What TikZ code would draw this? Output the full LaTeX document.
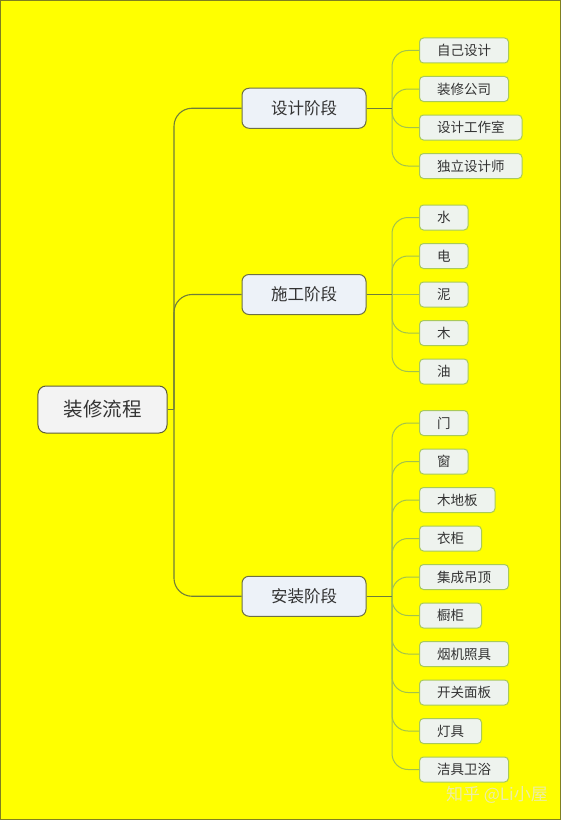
\documentclass[tikz,border=0pt]{standalone}
\usepackage{fontspec}
\setmainfont{Noto Sans CJK SC}
\definecolor{bgyellow}{HTML}{FFFF00}
\definecolor{frame}{HTML}{808020}
\definecolor{rootfill}{HTML}{F3F3F3}
\definecolor{rootdraw}{HTML}{5E5E3A}
\definecolor{midfill}{HTML}{EDF2F8}
\definecolor{middraw}{HTML}{6E7045}
\definecolor{leaffill}{HTML}{EEF3EE}
\definecolor{leafdraw}{HTML}{A9C95A}
\definecolor{txt}{HTML}{333333}
\definecolor{trunkline}{HTML}{6F7D3A}
\definecolor{leafline}{HTML}{A2C24C}
\definecolor{wm}{HTML}{EDEDA6}
\begin{document}
\begin{tikzpicture}[x=1bp,y=-1bp,
  rootbox/.style={draw=rootdraw,fill=rootfill,line width=1bp,rounded corners=8bp,
    minimum width=129bp,minimum height=47bp,inner sep=0pt,text=txt,
    font=\fontsize{19.5bp}{22bp}\selectfont},
  midbox/.style={draw=middraw,fill=midfill,line width=1bp,rounded corners=7bp,
    minimum width=124bp,minimum height=40bp,inner sep=0pt,text=txt,
    font=\fontsize{16.5bp}{19bp}\selectfont},
  leafbox/.style={draw=leafdraw,fill=leaffill,line width=1bp,rounded corners=4bp,
    minimum height=25bp,inner xsep=17.5bp,inner ysep=0pt,anchor=west,text=txt,
    font=\fontsize{13.5bp}{16bp}\selectfont},
  rootlink/.style={draw=trunkline,line width=1.1bp,rounded corners=18bp},
  midlink/.style={draw=trunkline,line width=1bp},
  leaflink/.style={draw=leafline,line width=1bp,rounded corners=16bp}
]
\fill[bgyellow] (0,0) rectangle (561,820);
\draw[frame,line width=1.2bp] (0.6,0.6) rectangle (560.4,819.4);
\useasboundingbox (0,0) rectangle (561,820);

% root and mid nodes
\node[rootbox] (r) at (102.5,409.5) {装修流程};
\node[midbox] (m1) at (304,108.25) {设计阶段};
\node[midbox] (m2) at (304,294.5) {施工阶段};
\node[midbox] (m3) at (304,596.25) {安装阶段};

% leaves
\node[leafbox] (a1) at (419,50.5) {自己设计};
\node[leafbox] (a2) at (419,89) {装修公司};
\node[leafbox] (a3) at (419,127.5) {设计工作室};
\node[leafbox] (a4) at (419,166) {独立设计师};

\node[leafbox] (b1) at (419,217.5) {水};
\node[leafbox] (b2) at (419,256) {电};
\node[leafbox] (b3) at (419,294.5) {泥};
\node[leafbox] (b4) at (419,333) {木};
\node[leafbox] (b5) at (419,371.5) {油};

\node[leafbox] (c1) at (419,423) {门};
\node[leafbox] (c2) at (419,461.5) {窗};
\node[leafbox] (c3) at (419,500) {木地板};
\node[leafbox] (c4) at (419,538.5) {衣柜};
\node[leafbox] (c5) at (419,577) {集成吊顶};
\node[leafbox] (c6) at (419,615.5) {橱柜};
\node[leafbox] (c7) at (419,654) {烟机照具};
\node[leafbox] (c8) at (419,692.5) {开关面板};
\node[leafbox] (c9) at (419,731) {灯具};
\node[leafbox] (c10) at (419,769.5) {洁具卫浴};

% root links
\coordinate (rj) at (174,409.5);
\draw[midlink] (r.east) -- (rj);
\draw[rootlink] (rj) |- (m1.west);
\draw[rootlink] (rj) |- (m2.west);
\draw[rootlink] (rj) |- (m3.west);

% mid to leaf links
\coordinate (j1) at (392,108.25);
\coordinate (j2) at (392,294.5);
\coordinate (j3) at (392,596.25);
\foreach \l in {a1,a2,a3,a4} {\draw[leaflink] (j1) |- (\l.west);}
\foreach \l in {b1,b2,b4,b5} {\draw[leaflink] (j2) |- (\l.west);}
\draw[leaflink] (j2) -- (b3.west);
\foreach \l in {c1,c2,c3,c4,c5,c6,c7,c8,c9,c10} {\draw[leaflink] (j3) |- (\l.west);}
\draw[midlink] (m1.east) -- (j1);
\draw[midlink] (m2.east) -- (j2);
\draw[midlink] (m3.east) -- (j3);

% watermark
\node[text=wm,font=\fontsize{17bp}{20bp}\selectfont,inner sep=0pt] (wmk) at (497,795) {知乎 @Li小屋};
\end{tikzpicture}
\end{document}
